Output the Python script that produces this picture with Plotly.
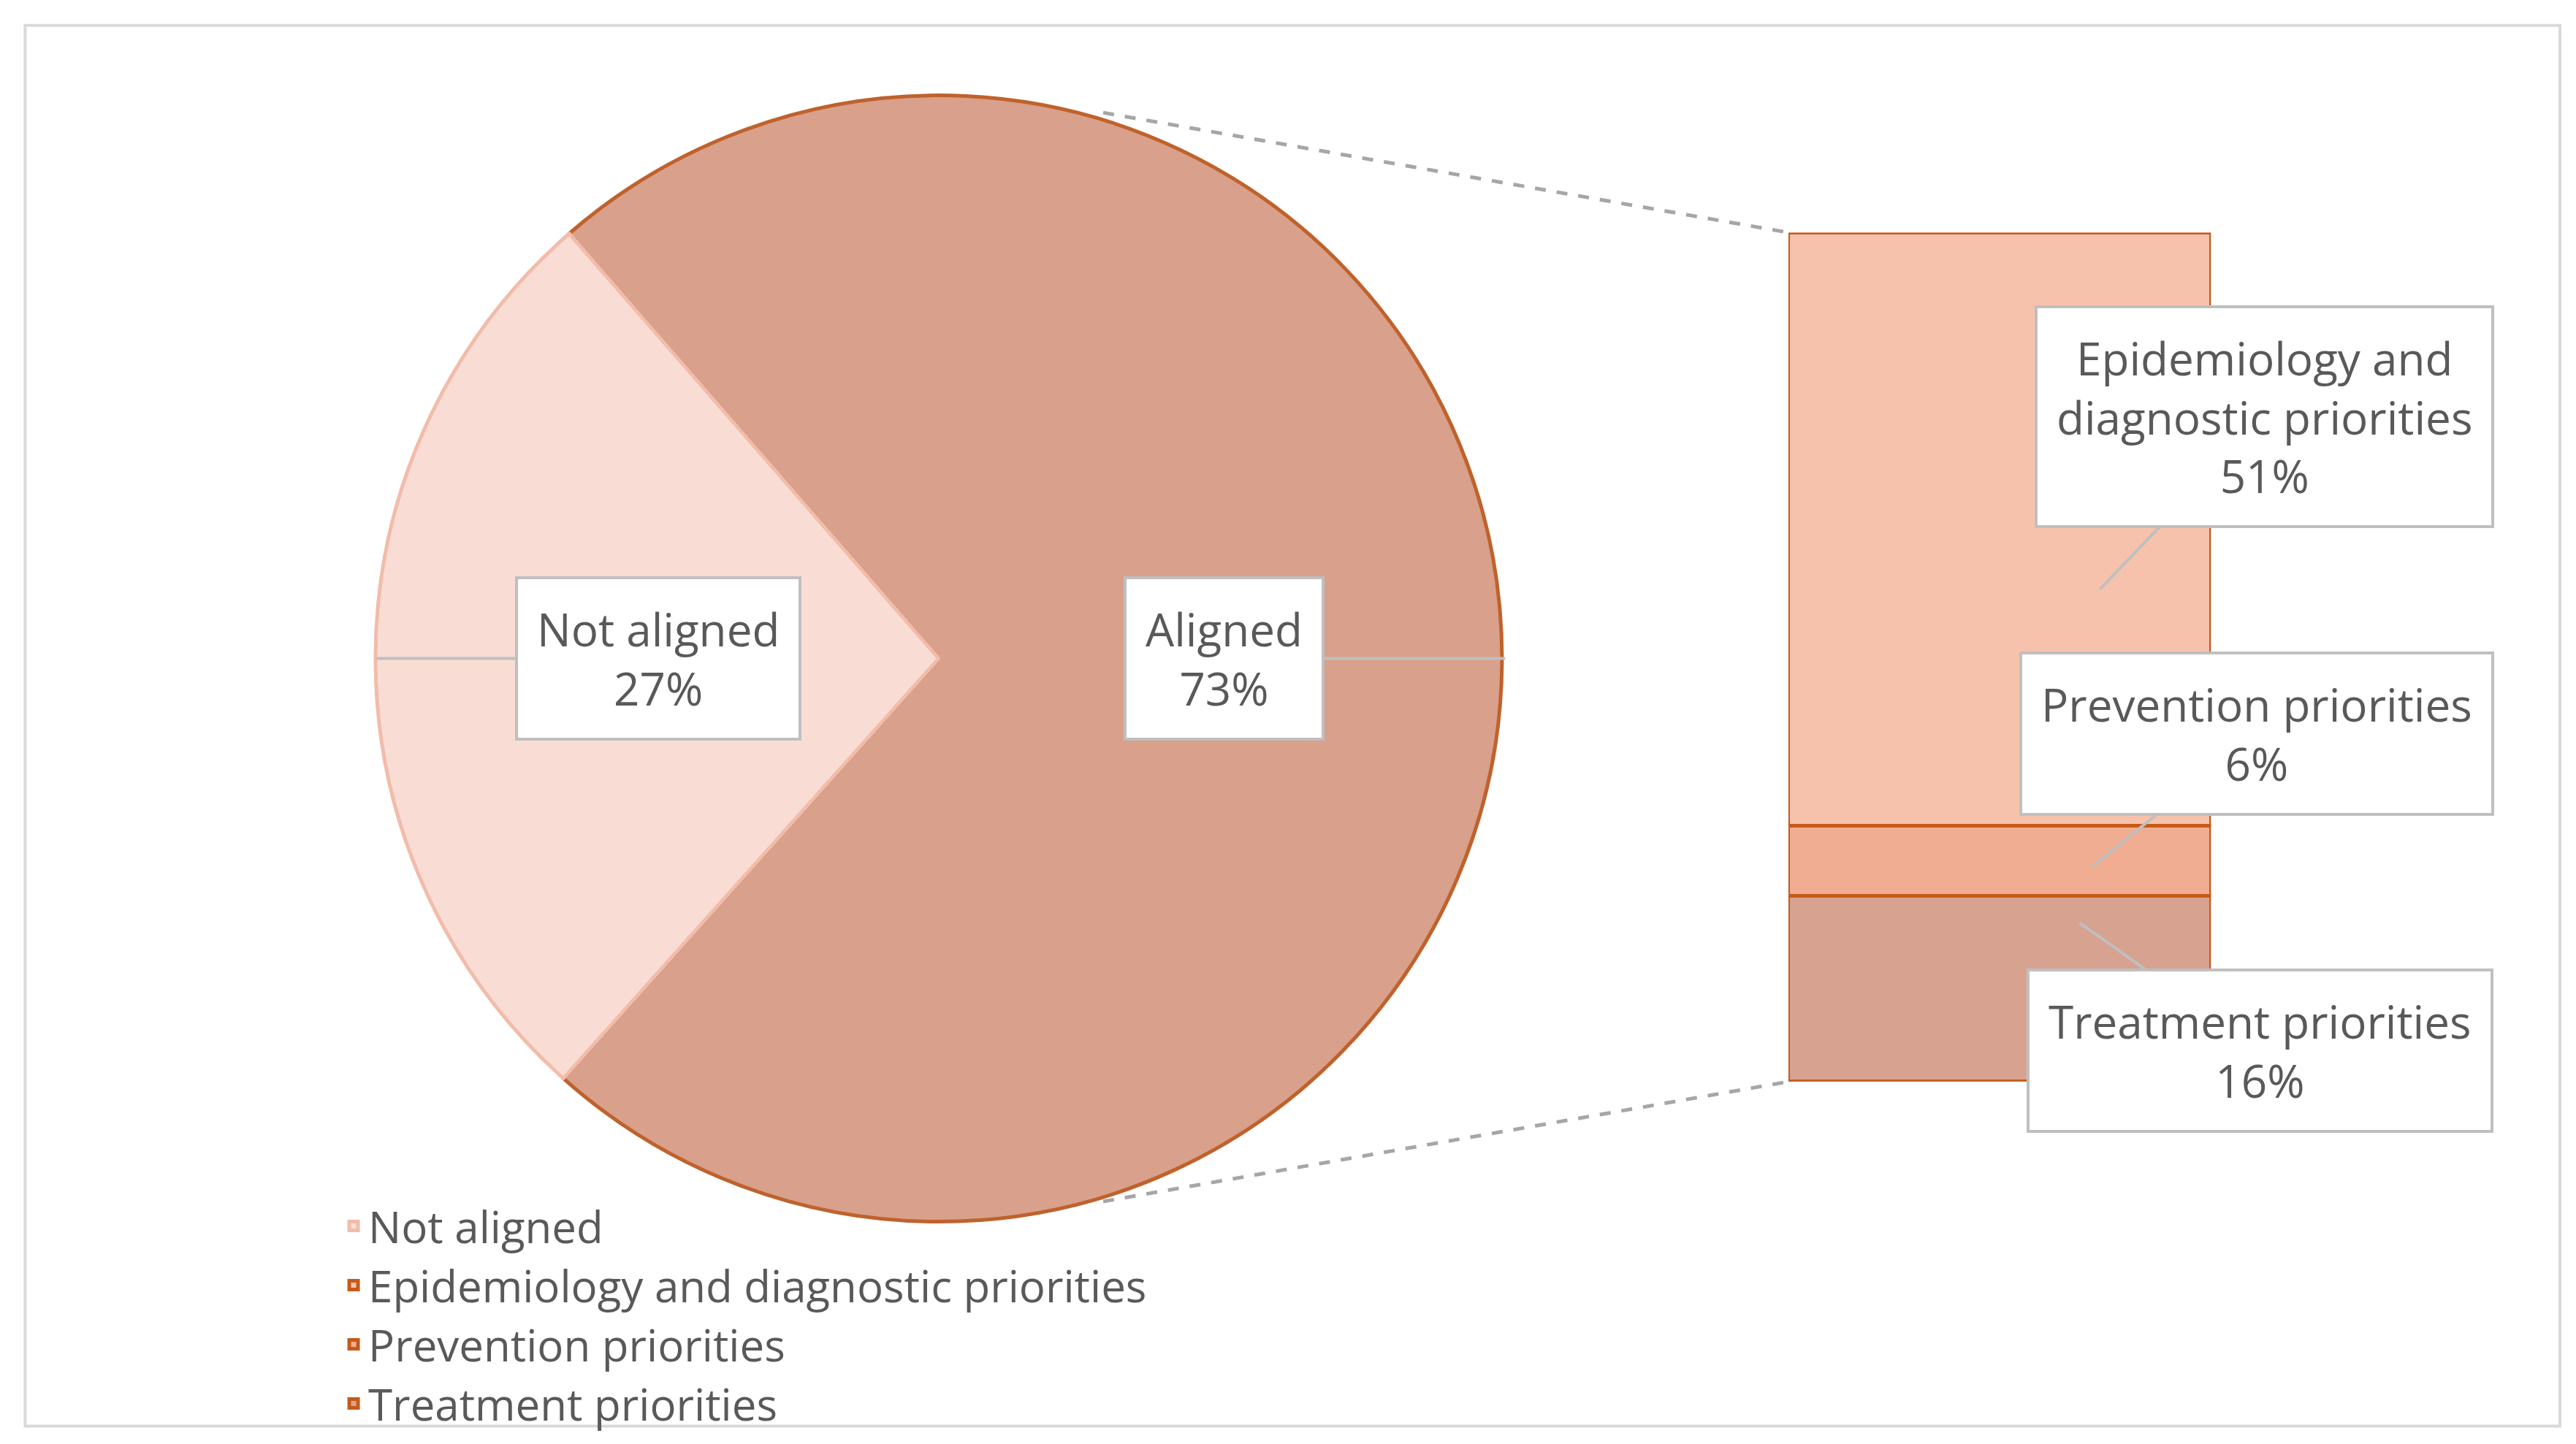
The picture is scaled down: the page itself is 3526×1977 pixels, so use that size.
import plotly.graph_objects as go

pie_labels = ["Aligned", "Not aligned"]
pie_values = [73, 27]
bar_labels = ["Treatment priorities", "Prevention priorities", "Epidemiology and diagnostic priorities"]
bar_values = [16, 6, 51]

W, H = 3526, 1977
FONT = "Open Sans"
TXT = "#595959"

fig = go.Figure()
fig.add_trace(go.Pie(
    labels=pie_labels, values=pie_values, sort=False, direction="clockwise", rotation=-41,
    marker=dict(colors=["#d9a08b", "#f9ddd5"], line=dict(color=["#bf622c", "#f2bcaa"], width=5)),
    textinfo="none", hoverinfo="label+percent", showlegend=False,
    domain=dict(x=[0.1435, 0.5808], y=[0.158, 0.938])))

bar_fill = {"Treatment priorities": "#d8a291", "Prevention priorities": "#f0ad92",
            "Epidemiology and diagnostic priorities": "#f7c2ac"}
ranks = {"Treatment priorities": 4, "Prevention priorities": 3, "Epidemiology and diagnostic priorities": 2}
fig.add_trace(go.Bar(x=[0], y=[None], name="Not aligned", legendrank=1,
                     marker=dict(color="#f9ddd5", line=dict(color="#f2bcaa", width=5))))
for lab, val in zip(bar_labels, bar_values):
    fig.add_trace(go.Bar(x=[0], y=[val], name=lab, width=1, legendrank=ranks[lab],
                         marker=dict(color=bar_fill[lab], line=dict(color="#c55a1a", width=5))))

fig.update_layout(
    width=W, height=H, barmode="stack", paper_bgcolor="white", plot_bgcolor="rgba(0,0,0,0)",
    margin=dict(l=0, r=0, t=0, b=0),
    font=dict(family=FONT, size=60, color=TXT),
    xaxis=dict(domain=[0.692, 0.856], range=[-0.5, 0.5], visible=False, fixedrange=True),
    yaxis=dict(domain=[0.255, 0.843], range=[0, 73], visible=False, fixedrange=True),
    legend=dict(orientation="h", x=0.165, y=0.178, xanchor="left", yanchor="top",
                traceorder="normal", entrywidth=1490, entrywidthmode="pixels",
                font=dict(size=60, color=TXT), bgcolor="rgba(0,0,0,0)"),
)

shapes = [
    dict(type="rect", xref="paper", yref="paper", x0=0.0075, y0=0.0165, x1=0.9915, y1=0.9865,
         line=dict(color="#d9d9d9", width=4)),
    dict(type="line", xref="paper", yref="paper", x0=0.426, y0=0.926, x1=0.692, y1=0.843,
         line=dict(color="#a6a6a6", width=5, dash="dash")),
    dict(type="line", xref="paper", yref="paper", x0=0.426, y0=0.172, x1=0.692, y1=0.255,
         line=dict(color="#a6a6a6", width=5, dash="dash")),
]
fig.update_layout(shapes=shapes)

def callout(text, x, y, ax, ay):
    fig.add_annotation(text=text, x=x, y=y, xref="paper", yref="paper", ax=ax, ay=ay,
                       showarrow=True, arrowhead=0, arrowwidth=4, arrowcolor="#bfbfbf",
                       bordercolor="#bfbfbf", borderwidth=4, borderpad=26, bgcolor="white",
                       font=dict(size=62, color=TXT), align="center")

callout(f"{pie_labels[1]}<br>{pie_values[1]}%", 0.144, 0.548, 385, 0)
callout(f"{pie_labels[0]}<br>{pie_values[0]}%", 0.582, 0.548, -385, 0)
callout(f"Epidemiology and<br>diagnostic priorities<br>{bar_values[2]}%", 0.813, 0.596, 225, -236)
callout(f"{bar_labels[1]}<br>{bar_values[1]}%", 0.810, 0.404, 225, -182)
callout(f"{bar_labels[0]}<br>{bar_values[0]}%", 0.805, 0.365, 247, 175)

fig.write_html("out.html")
